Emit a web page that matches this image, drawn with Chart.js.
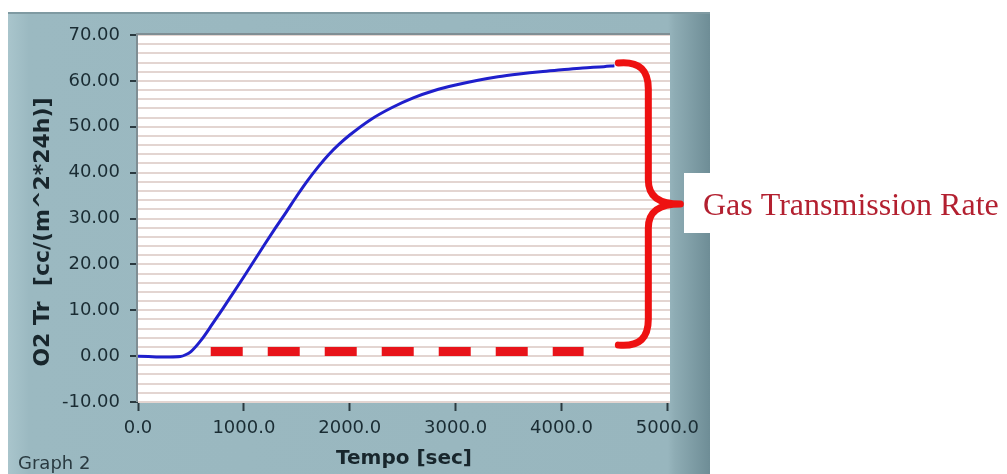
<!DOCTYPE html>
<html>
<head>
<meta charset="utf-8">
<script src="https://cdn.jsdelivr.net/npm/chart.js@4.4.1/dist/chart.umd.min.js"></script>
<style>
  html, body { margin: 0; padding: 0; background: #fff; }
  #wrap { position: relative; width: 1007px; height: 474px; }
</style>
</head>
<body>
<div id="wrap"><canvas id="graph2" width="1007" height="474"></canvas></div>
<script>
// O2 transmission curve (time in sec, rate in cc/(m^2*24h))
const timeSec = [0, 100, 200, 300, 400, 450, 500, 600, 700, 800, 900, 1000, 1100, 1200, 1300, 1400, 1500,
  1600, 1700, 1800, 1900, 2000, 2200, 2400, 2600, 2800, 3000, 3200, 3400, 3600, 3800, 4000, 4200, 4400, 4500];
const o2Rate = [0.0, -0.1, -0.2, -0.2, -0.1, 0.3, 1.0, 3.6, 6.9, 10.3, 13.8, 17.3, 20.9, 24.5, 28.0, 31.4, 34.9,
  38.2, 41.2, 43.9, 46.2, 48.2, 51.6, 54.2, 56.3, 57.9, 59.1, 60.1, 60.9, 61.5, 62.0, 62.4, 62.8, 63.1, 63.3];

// red dashed baseline
const baselineSec = [687, 4209];
const baselineRate = [1.0, 1.0];

// axis ticks
const xTickValues = [0, 1000, 2000, 3000, 4000, 5000];
const yTickValues = [-10, 0, 10, 20, 30, 40, 50, 60, 70];

const toPoints = (xs, ys) => xs.map((x, i) => ({ x: x, y: ys[i] }));

// annotation (brace) anchored in data units
const braceStartSec = 4537;
const braceTopRate = 63.9;
const braceBottomRate = 2.4;

const panelPlugin = {
  id: "panel",
  beforeDraw(chart) {
    const ctx = chart.ctx;
    const a = chart.chartArea;
    ctx.save();
    // grey-blue panel
    const g = ctx.createLinearGradient(8, 0, 710, 0);
    g.addColorStop(0, "#a9c5cc");
    g.addColorStop(0.03, "#9bb9c1");
    g.addColorStop(0.94, "#98b6be");
    g.addColorStop(0.95, "#8eacb4");
    g.addColorStop(1, "#6e8d96");
    ctx.fillStyle = g;
    ctx.fillRect(8, 13, 702, 461);
    ctx.fillStyle = "#7f9aa2";
    ctx.fillRect(8, 12, 702, 2);
    // plot background
    ctx.fillStyle = "#ffffff";
    ctx.fillRect(a.left, a.top, a.right - a.left, a.bottom - a.top);
    ctx.restore();
  },
  afterDraw(chart) {
    const ctx = chart.ctx;
    const a = chart.chartArea;
    const xs = chart.scales.x;
    const ys = chart.scales.y;
    ctx.save();
    // sunken border of the plot
    ctx.strokeStyle = "#7f8e94";
    ctx.lineWidth = 2;
    ctx.beginPath();
    ctx.moveTo(a.left - 1, a.bottom);
    ctx.lineTo(a.left - 1, a.top - 1);
    ctx.lineTo(a.right, a.top - 1);
    ctx.stroke();

    // axis titles
    ctx.fillStyle = "#18262c";
    ctx.font = "bold 20px 'DejaVu Sans'";
    ctx.textAlign = "center";
    ctx.textBaseline = "middle";
    ctx.fillText("Tempo [sec]", (a.left + a.right) / 2, 459);
    ctx.save();
    ctx.translate(43, 232);
    ctx.rotate(-Math.PI / 2);
    ctx.font = "bold 22px 'DejaVu Sans'";
    ctx.fillText("O2 Tr  [cc/(m^2*24h)]", 0, 0);
    ctx.restore();

    ctx.font = "18px 'DejaVu Sans'";
    ctx.textAlign = "left";
    ctx.fillStyle = "#2a3a40";
    ctx.fillText("Graph 2", 18, 464);

    // white label box
    ctx.fillStyle = "#ffffff";
    ctx.fillRect(684, 173, 323, 60);

    // red brace
    const x0 = xs.getPixelForValue(braceStartSec);
    const top = ys.getPixelForValue(braceTopRate);
    const bot = ys.getPixelForValue(braceBottomRate);
    const mid = (top + bot) / 2;
    const sx = x0 + 30;
    const tx = x0 + 62;
    ctx.strokeStyle = "#ee1111";
    ctx.lineWidth = 7;
    ctx.lineCap = "round";
    ctx.lineJoin = "round";
    ctx.beginPath();
    ctx.moveTo(x0, top);
    ctx.bezierCurveTo(x0 + 22, top - 2, sx, top + 8, sx, top + 26);
    ctx.lineTo(sx, mid - 24);
    ctx.bezierCurveTo(sx, mid - 8, sx + 10, mid, tx, mid);
    ctx.bezierCurveTo(sx + 10, mid, sx, mid + 8, sx, mid + 24);
    ctx.lineTo(sx, bot - 26);
    ctx.bezierCurveTo(sx, bot - 8, x0 + 22, bot + 2, x0, bot);
    ctx.stroke();

    // label
    ctx.fillStyle = "#b32030";
    ctx.font = "32px 'Liberation Serif'";
    ctx.textAlign = "left";
    ctx.textBaseline = "alphabetic";
    ctx.fillText("Gas Transmission Rate", 703, 215);
    ctx.restore();
  },
};

const isMajorY = (v) => yTickValues.includes(Math.round(v));

new Chart(document.getElementById("graph2"), {
  type: "line",
  data: {
    datasets: [
      {
        data: toPoints(timeSec, o2Rate),
        borderColor: "#1f1fcc",
        borderWidth: 3,
        pointRadius: 0,
        cubicInterpolationMode: "monotone",
      },
      {
        data: toPoints(baselineSec, baselineRate),
        borderColor: "#e8141a",
        borderWidth: 9,
        borderDash: [32, 25],
        borderCapStyle: "butt",
        pointRadius: 0,
      },
    ],
  },
  options: {
    responsive: false,
    animation: false,
    layout: { padding: { left: 0, top: 35, right: 337, bottom: 0 } },
    plugins: { legend: { display: false }, tooltip: { enabled: false } },
    scales: {
      x: {
        type: "linear",
        min: 0,
        max: 5025,
        afterFit: (s) => { s.height = 72; },
        afterBuildTicks: (s) => { s.ticks = xTickValues.map((v) => ({ value: v })); },
        border: { display: false },
        grid: {
          drawOnChartArea: false,
          drawTicks: true,
          tickLength: 9,
          tickColor: "#2a3a40",
          tickWidth: 2,
        },
        ticks: {
          padding: 7,
          color: "#1a2c33",
          font: { family: "DejaVu Sans", size: 18 },
          maxRotation: 0,
          autoSkip: false,
          callback: (v) => Number(v).toFixed(1),
        },
      },
      y: {
        type: "linear",
        min: -10,
        max: 70,
        afterFit: (s) => { s.width = 138; },
        border: { display: false },
        grid: {
          color: "#e3d5d1",
          lineWidth: 2,
          drawTicks: true,
          tickLength: 8,
          tickWidth: 2,
          tickColor: (c) => (c.tick && isMajorY(c.tick.value) ? "#2a3a40" : "rgba(0,0,0,0)"),
        },
        ticks: {
          stepSize: 2,
          autoSkip: false,
          padding: 10,
          color: "#1a2c33",
          font: { family: "DejaVu Sans", size: 18 },
          callback: (v) => (isMajorY(v) && v % 10 === 0 ? Number(v).toFixed(2) : ""),
        },
      },
    },
  },
  plugins: [panelPlugin],
});
</script>
</body>
</html>
